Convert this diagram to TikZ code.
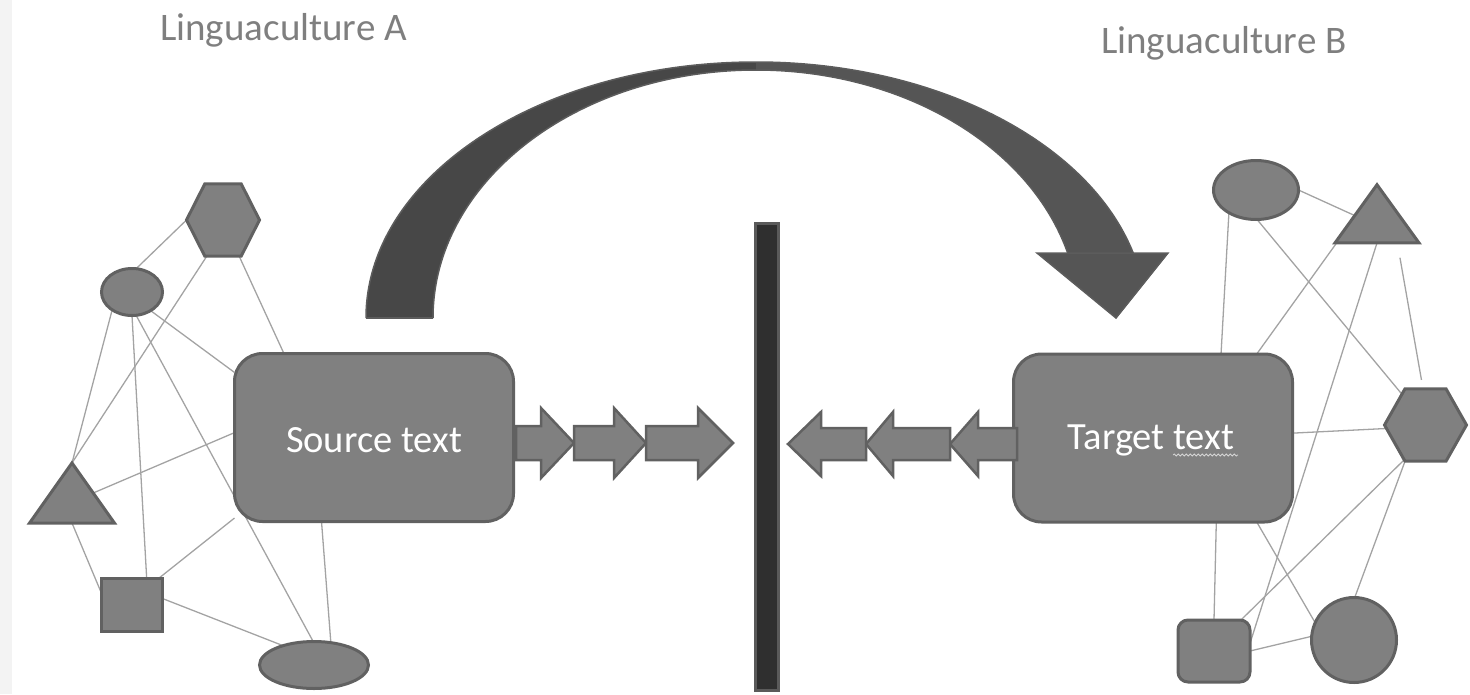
\documentclass[tikz,border=0pt]{standalone}
\usepackage{fontspec}
\setmainfont{Carlito}
\usetikzlibrary{shapes.geometric,decorations.pathmorphing,backgrounds}
\definecolor{shapefill}{HTML}{808080}
\definecolor{shapeedge}{HTML}{616161}
\definecolor{netline}{HTML}{A3A3A3}
\definecolor{labelgray}{HTML}{7F7F7F}
\definecolor{bandback}{HTML}{474747}
\definecolor{bandfront}{HTML}{555555}
\definecolor{bandedge}{HTML}{5C5C5C}
\definecolor{barfill}{HTML}{2F2F2F}
\definecolor{baredge}{HTML}{5A5A5A}
\definecolor{stripgray}{HTML}{F3F3F3}
\definecolor{squiggle}{HTML}{D5D5D5}
\begin{document}
\begin{tikzpicture}[x=1pt,y=-1pt,
  shp/.style={fill=shapefill,draw=shapeedge,line width=3pt,inner sep=0pt,outer sep=0pt},
  tbox/.style={shp,rounded corners=28pt,minimum width=279pt,minimum height=168pt},
  boxtext/.style={text=white,font=\fontsize{38.5}{42}\selectfont,inner sep=0pt},
  ell/.style={shp,ellipse},
  hexa/.style={shp,regular polygon,regular polygon sides=6,transform shape},
  tria/.style={shp,regular polygon,regular polygon sides=3,transform shape},
  net/.style={draw=netline,line width=1.3pt},
  blockarrow/.style={fill=shapefill,draw=shapeedge,line width=2.5pt,line join=miter},
  bandline/.style={draw=bandedge,line width=1.5pt},
  lbl/.style={text=labelgray,font=\fontsize{39}{42}\selectfont,inner sep=0pt,anchor=base west}
]
\useasboundingbox (0,0) rectangle (1470,694);

% ---------- curved arrow ----------
\fill[bandback]
  (366,318) arc[start angle=180,end angle=270,x radius=390,y radius=256]
  -- (756,70) arc[start angle=270,end angle=180,x radius=323,y radius=248] -- cycle;
\fill[bandfront]
  (756,62) arc[start angle=270,end angle=345.3,x radius=390,y radius=256]
  -- (1067.7,253) arc[start angle=344.8,end angle=270,x radius=323,y radius=248] -- cycle;
\draw[bandline] (366,318) arc[start angle=180,end angle=345.3,x radius=390,y radius=256];
\draw[bandline] (433,318) arc[start angle=180,end angle=344.8,x radius=323,y radius=248];
\draw[bandline] (366,318) -- (433,318);
\path[fill=bandfront,draw=bandedge,line width=1.5pt]
  (1037,253) -- (1168,253) -- (1116,318) -- cycle;

% ---------- labels ----------
\node[lbl] (labA) at (160,40) {Linguaculture A};
\node[lbl] (labB) at (1101,53) {Linguaculture B};

% ---------- text boxes ----------
\node[tbox] (src) at (374,437.5) {};
\node[boxtext] (srclabel) at (374,440) {Source text};
\node[tbox] (tgt) at (1153,438) {};
\node[boxtext] (tgtlabel) at (1151,440) {Target text};
\draw[decorate,decoration={snake,amplitude=1pt,segment length=4pt},draw=squiggle,line width=0.8pt]
  (1173,455) -- (1238,455);

% ---------- left network shapes ----------
\begin{scope}[shift={(223,220)},yscale=1.14]
  \node[hexa,minimum size=73pt] (lhex) at (0,0) {};
\end{scope}
\node[ell,minimum width=61pt,minimum height=47pt] (lell) at (132,292) {};
\begin{scope}[shift={(72,503)},yscale=0.817]
  \node[tria,minimum size=98pt] (ltri) at (0,0) {};
\end{scope}
\node[shp,minimum width=61pt,minimum height=53pt] (lsq) at (132,605) {};
\node[ell,minimum width=109pt,minimum height=47pt] (lell2) at (314,665) {};

% ---------- right network shapes ----------
\node[ell,minimum width=85pt,minimum height=59pt] (rell) at (1256,190) {};
\begin{scope}[shift={(1377,223.5)},yscale=0.80]
  \node[tria,minimum size=97pt] (rtri) at (0,0) {};
\end{scope}
\begin{scope}[shift={(1425.5,425)},yscale=1.02]
  \node[hexa,minimum size=82pt] (rhex) at (0,0) {};
\end{scope}
\node[shp,rounded corners=10pt,minimum width=72pt,minimum height=62pt] (rsq) at (1214,651) {};
\node[shp,circle,minimum size=85pt] (rcirc) at (1354,640) {};

% ---------- network lines (behind) ----------
\begin{scope}[on background layer]
  \fill[stripgray] (0,0) rectangle (12,694);
  \draw[net] (lhex.west) -- (lell.80);
  \draw[net] (lhex.243) -- (ltri.north);
  \draw[net] (lhex.297) -- (src.137);
  \draw[net] (lell.222) -- (ltri.north);
  \draw[net] (lell.315) -- (src.155);
  \draw[net] (lell.270) -- (lsq.61);
  \draw[net] (lell.280) -- (lell2.92);
  \draw[net] (ltri.30) -- (src.178);
  \draw[net] (ltri.south) -- (lsq.159);
  \draw[net] (lsq.45) -- (src.210);
  \draw[net] (lsq.12) -- (lell2.148);
  \draw[net] (src.238) -- (lell2.53);

  \draw[net] (rell.0) -- (rtri.156);
  \draw[net] (rell.220) -- (tgt.51);
  \draw[net] (rell.272) -- (rhex.128);
  \draw[net] (rtri.211) -- (tgt.39);
  \draw[net] (rtri.south) -- (rsq.12);
  \draw[net,shorten <=15pt,shorten >=9pt] (rtri.310) -- (rhex.94);
  \draw[net] (tgt.2) -- (rhex.185);
  \draw[net] (rhex.238) -- (rsq.49);
  \draw[net] (rhex.240) -- (rcirc.89);
  \draw[net] (tgt.307) -- (rsq.north);
  \draw[net] (tgt.321) -- (rcirc.156);
  \draw[net] (rsq.east) -- (rcirc.175);
\end{scope}

% ---------- block arrows ----------
\path[blockarrow] (516,426) -- (541,426) -- (541,408) -- (574,443) -- (541,478) -- (541,460) -- (516,460) -- cycle;
\path[blockarrow] (574,426) -- (614,426) -- (614,408) -- (646,443) -- (614,478) -- (614,460) -- (574,460) -- cycle;
\path[blockarrow] (646,426) -- (698,426) -- (698,408) -- (733,443) -- (698,478) -- (698,460) -- (646,460) -- cycle;

\path[blockarrow] (950,444) -- (978,412) -- (978,428) -- (1017,428) -- (1017,460) -- (978,460) -- (978,476) -- cycle;
\path[blockarrow] (866,444) -- (893,412) -- (893,428) -- (950,428) -- (950,460) -- (893,460) -- (893,476) -- cycle;
\path[blockarrow] (788,444) -- (821,412) -- (821,428) -- (866,428) -- (866,460) -- (821,460) -- (821,476) -- cycle;

% ---------- barrier ----------
\path[fill=barfill,draw=baredge,line width=3pt] (755,223) rectangle (778,690);
\end{tikzpicture}
\end{document}
